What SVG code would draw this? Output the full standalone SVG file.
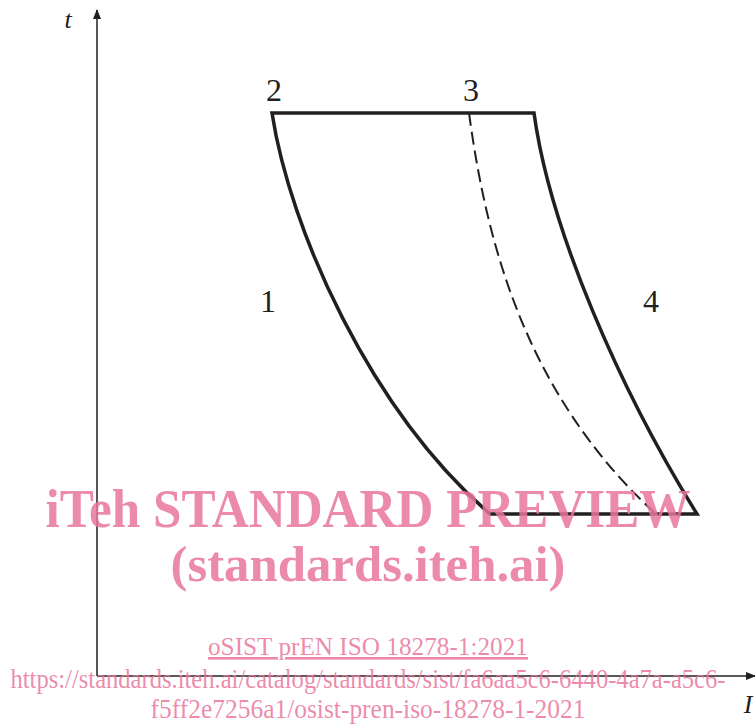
<svg xmlns="http://www.w3.org/2000/svg" width="755" height="726" viewBox="0 0 755 726">
<style>
.ax{stroke:#231f20;stroke-width:1.5;fill:none}
.cv{stroke:#231f20;stroke-width:3.5;fill:none;stroke-linejoin:miter}
.ds{stroke:#231f20;stroke-width:2;fill:none;stroke-dasharray:13 6}
.lb{font-family:"Liberation Serif",serif;font-size:32px;fill:#231f20;text-anchor:middle}
.wm{font-family:"Liberation Serif",serif;fill:#e9769c;fill-opacity:0.85;text-anchor:middle}
</style>
<defs>
<marker id="ah" markerWidth="10" markerHeight="16" refX="9" refY="4" orient="auto" markerUnits="userSpaceOnUse" viewBox="0 0 10 8">
<path d="M0,0 L10,4 L0,8 Z" fill="#231f20"/>
</marker>
</defs>
<g id="axes">
<line class="ax" x1="97" y1="676" x2="97" y2="10" marker-end="url(#ah)"/>
<line class="ax" x1="97" y1="676" x2="755" y2="676" marker-end="url(#ah)"/>
<text x="68" y="28" font-family="Liberation Serif,serif" font-style="italic" font-size="26" fill="#231f20" text-anchor="middle">t</text>
<text x="748" y="713" font-family="Liberation Serif,serif" font-style="italic" font-size="26" fill="#231f20" text-anchor="middle">I</text>
</g>
<g id="cycle">
<path class="cv" d="M272,113 L534,113 C550,230 620,390 697,514 L490,514 C370,410 290,230 272,113 Z"/>
<path class="ds" d="M469,113 C485,230 520,390 656,514"/>
</g>
<g id="labels">
<text class="lb" x="274" y="101">2</text>
<text class="lb" x="471" y="101">3</text>
<text class="lb" x="268" y="312">1</text>
<text class="lb" x="651" y="312">4</text>
</g>
<g id="watermark">
<text class="wm" x="368" y="527" font-size="54" font-weight="bold" textLength="645" lengthAdjust="spacingAndGlyphs">iTeh STANDARD PREVIEW</text>
<text class="wm" x="368" y="581" font-size="50" font-weight="bold" textLength="395" lengthAdjust="spacingAndGlyphs">(standards.iteh.ai)</text>
<text class="wm" x="368" y="655" font-size="26" text-decoration="underline" textLength="320" lengthAdjust="spacingAndGlyphs">oSIST prEN ISO 18278-1:2021</text>
<text class="wm" x="368" y="688" font-size="27" textLength="715" lengthAdjust="spacingAndGlyphs">https://standards.iteh.ai/catalog/standards/sist/fa6aa5c6-6440-4a7a-a5c6-</text>
<text class="wm" x="368" y="718" font-size="27" textLength="435" lengthAdjust="spacingAndGlyphs">f5ff2e7256a1/osist-pren-iso-18278-1-2021</text>
</g>
</svg>
